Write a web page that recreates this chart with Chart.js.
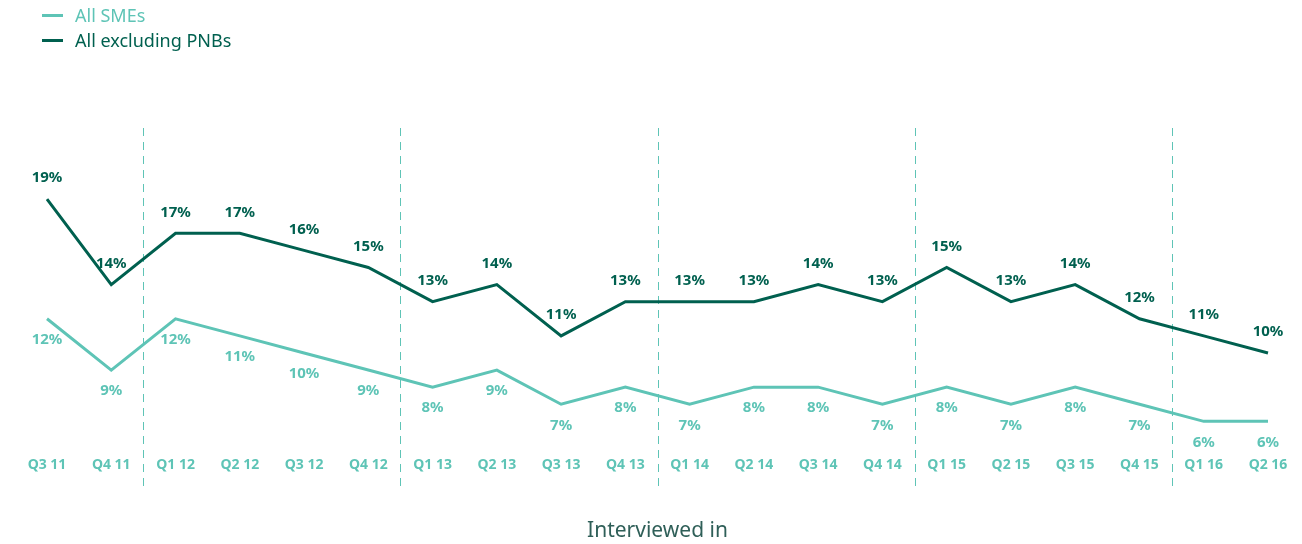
<!DOCTYPE html>
<html lang="en">
<head>
    <meta charset="UTF-8">
    <title>SME share by quarter</title>
    <script src="https://cdn.jsdelivr.net/npm/chart.js"></script>
    <style>
        body { margin: 0; background: #fff; font-family: "Noto Sans", sans-serif; }
        .wrap { position: relative; width: 1302px; height: 544px; }
        .legend { position: absolute; left: 42px; top: 3px; font-size: 18px; line-height: 25px; }
        .legend div { display: flex; align-items: center; }
        .legend span.sw { display: inline-block; width: 21px; height: 3px; margin-right: 12px; }
    </style>
</head>
<body>
    <div class="wrap">
        <div class="legend">
            <div style="color:#5ec4b6"><span class="sw" style="background:#5ec4b6"></span>All SMEs</div>
            <div style="color:#00604f"><span class="sw" style="background:#00604f"></span>All excluding PNBs</div>
        </div>
        <canvas id="chart" width="1302" height="544"></canvas>
    </div>

    <script>
        const quarters = ['Q3 11', 'Q4 11', 'Q1 12', 'Q2 12', 'Q3 12', 'Q4 12', 'Q1 13', 'Q2 13', 'Q3 13', 'Q4 13',
            'Q1 14', 'Q2 14', 'Q3 14', 'Q4 14', 'Q1 15', 'Q2 15', 'Q3 15', 'Q4 15', 'Q1 16', 'Q2 16'];
        const allSMEs = [12, 9, 12, 11, 10, 9, 8, 9, 7, 8, 7, 8, 8, 7, 8, 7, 8, 7, 6, 6];
        const excludingPNBs = [19, 14, 17, 17, 16, 15, 13, 14, 11, 13, 13, 13, 14, 13, 15, 13, 14, 12, 11, 10];
        // year breaks sit between these index pairs
        const yearBreaks = [1.5, 5.5, 9.5, 13.5, 17.5];

        const LIGHT = '#5ec4b6';
        const DARK = '#00604f';

        // dashed separators between years
        const separators = {
            id: 'separators',
            beforeDatasetsDraw(chart) {
                const ctx = chart.ctx;
                const x = chart.scales.x;
                ctx.save();
                ctx.strokeStyle = LIGHT;
                ctx.lineWidth = 1;
                ctx.setLineDash([8, 6]);
                yearBreaks.forEach(b => {
                    const px = Math.round((x.getPixelForValue(Math.floor(b)) + x.getPixelForValue(Math.ceil(b))) / 2) + 0.5;
                    ctx.beginPath();
                    ctx.moveTo(px, 128);
                    ctx.lineTo(px, 488);
                    ctx.stroke();
                });
                ctx.restore();
            }
        };

        // value labels: dark above, light below
        const valueLabels = {
            id: 'valueLabels',
            afterDatasetsDraw(chart) {
                const ctx = chart.ctx;
                ctx.save();
                ctx.font = 'bold 15px "Noto Sans"';
                ctx.textAlign = 'center';
                ctx.textBaseline = 'middle';
                chart.data.datasets.forEach((ds, i) => {
                    const meta = chart.getDatasetMeta(i);
                    ctx.fillStyle = ds.borderColor;
                    meta.data.forEach((pt, j) => {
                        const off = i === 1 ? -21 : 21;
                        ctx.fillText(ds.data[j] + '%', pt.x, pt.y + off);
                    });
                });
                ctx.restore();
            }
        };

        new Chart(document.getElementById('chart'), {
            type: 'line',
            data: {
                labels: quarters,
                datasets: [{
                    label: 'All SMEs',
                    data: allSMEs,
                    borderColor: LIGHT,
                    borderWidth: 3,
                    pointRadius: 0,
                    tension: 0
                }, {
                    label: 'All excluding PNBs',
                    data: excludingPNBs,
                    borderColor: DARK,
                    borderWidth: 3,
                    pointRadius: 0,
                    tension: 0
                }]
            },
            options: {
                responsive: false,
                animation: false,
                layout: { padding: { left: 47, right: 34, top: 182, bottom: 0 } },
                plugins: { legend: { display: false }, tooltip: { enabled: false } },
                scales: {
                    x: {
                        offset: false,
                        grid: { display: false, drawTicks: false },
                        border: { display: false },
                        ticks: {
                            padding: 10,
                            color: LIGHT,
                            font: { family: 'Noto Sans', size: 14, weight: 'bold' },
                            maxRotation: 0,
                            autoSkip: false
                        },
                        title: {
                            display: true,
                            text: 'Interviewed in',
                            color: '#2f5f58',
                            font: { family: 'Noto Sans', size: 21 },
                            padding: { top: 35, bottom: 0 }
                        }
                    },
                    y: {
                        display: false,
                        min: 4.5,
                        max: 20
                    }
                }
            },
            plugins: [separators, valueLabels]
        });
    </script>
</body>
</html>
